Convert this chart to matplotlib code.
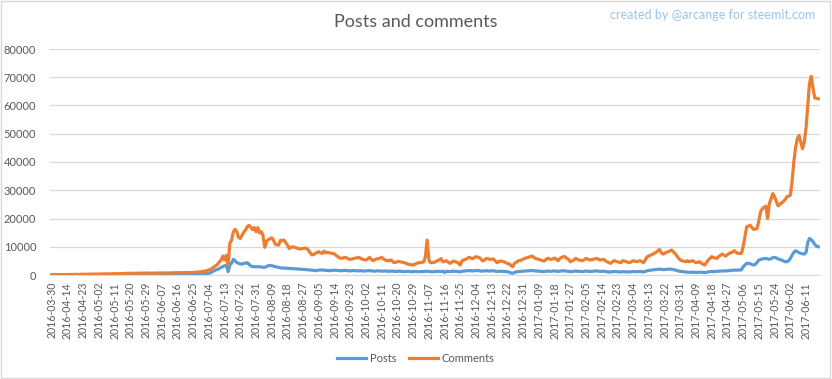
import matplotlib
matplotlib.use("Agg")
import matplotlib.pyplot as plt
import pandas as pd
from matplotlib.patches import Rectangle

# categories: one per day (the first date is followed by a gap)
dates = ["2016-03-30"] + [d.strftime("%Y-%m-%d") for d in pd.date_range("2016-04-06", periods=439, freq="D")]

posts = [
    20, 30, 25, 30, 35, 30, 40, 35, 40, 45,
    40, 45, 50, 45, 50, 55, 50, 55, 60, 55,
    60, 65, 60, 70, 65, 70, 75, 70, 80, 75,
    80, 85, 80, 90, 85, 90, 95, 90, 100, 95,
    100, 105, 100, 110, 105, 110, 115, 110, 120, 115,
    120, 125, 120, 130, 125, 130, 120, 125, 130, 135,
    130, 140, 135, 140, 145, 140, 150, 145, 150, 155,
    150, 160, 155, 165, 160, 170, 175, 170, 180, 185,
    190, 200, 210, 220, 240, 250, 300, 350, 450, 550,
    650, 800, 1180, 1500, 1800, 2000, 2300, 2700, 2940, 3300,
    3530, 1180, 3500, 4120, 5530, 5060, 4400, 4120, 3880, 3900,
    4120, 4200, 4350, 3800, 3180, 3000, 2940, 2950, 2900, 2940,
    2800, 2750, 2710, 3000, 3300, 3410, 3300, 3100, 2940, 2800,
    2700, 2550, 2470, 2450, 2400, 2380, 2350, 2300, 2250, 2180,
    2120, 2100, 2050, 2020, 2000, 1950, 1900, 1770, 1800, 1700,
    1650, 1530, 1600, 1770, 1750, 1770, 1700, 1650, 1600, 1530,
    1600, 1650, 1700, 1650, 1600, 1550, 1500, 1600, 1650, 1550,
    1500, 1450, 1550, 1600, 1500, 1450, 1500, 1550, 1450, 1400,
    1450, 1500, 1550, 1450, 1400, 1350, 1450, 1500, 1400, 1350,
    1400, 1450, 1350, 1300, 1350, 1400, 1300, 1250, 1300, 1350,
    1300, 1250, 1200, 1250, 1300, 1200, 1150, 1200, 1250, 1200,
    1150, 1200, 1250, 1200, 1300, 1350, 1250, 1200, 1150, 1200,
    1250, 1300, 1250, 1200, 1350, 900, 1300, 1250, 1200, 1300,
    1350, 1300, 1250, 1200, 1100, 1300, 1400, 1450, 1500, 1550,
    1500, 1450, 1500, 1550, 1600, 1500, 1400, 1350, 1450, 1500,
    1450, 1400, 1450, 1500, 1350, 1250, 1300, 1350, 1300, 1250,
    1200, 1150, 1000, 700, 600, 900, 1100, 1200, 1250, 1300,
    1350, 1400, 1450, 1500, 1550, 1600, 1500, 1450, 1400, 1350,
    1300, 1250, 1200, 1300, 1400, 1350, 1300, 1400, 1450, 1350,
    1250, 1350, 1450, 1500, 1450, 1350, 1300, 1150, 1250, 1300,
    1400, 1350, 1300, 1250, 1200, 1300, 1400, 1350, 1250, 1300,
    1350, 1400, 1450, 1350, 1250, 1300, 1350, 1250, 1150, 1100,
    1050, 1150, 1250, 1200, 1150, 1100, 1050, 1200, 1150, 1100,
    1100, 1050, 1150, 1250, 1200, 1150, 1200, 1250, 1150, 1100,
    1300, 1500, 1600, 1700, 1800, 1850, 1950, 2000, 2100, 2000,
    1900, 1950, 2000, 2050, 2100, 2000, 1900, 1800, 1600, 1400,
    1300, 1200, 1150, 1100, 1000, 950, 950, 1000, 950, 900,
    950, 1000, 950, 900, 850, 950, 1100, 1200, 1250, 1200,
    1250, 1300, 1350, 1400, 1450, 1400, 1450, 1500, 1550, 1600,
    1700, 1770, 1700, 1750, 1770, 1800, 2940, 3500, 4120, 4120,
    4000, 3700, 3530, 3800, 4500, 5300, 5500, 5700, 5800, 5880,
    5700, 5530, 5800, 6100, 6240, 6000, 5700, 5500, 5300, 5000,
    4710, 4710, 5000, 5880, 7000, 8000, 8590, 8300, 7900, 7650,
    7500, 7410, 8000, 11500, 12940, 12500, 11770, 10800, 10240, 10000,
]

comments = [
    100, 120, 80, 150, 100, 120, 130, 110, 150, 140,
    180, 200, 160, 220, 250, 200, 230, 260, 240, 280,
    250, 300, 280, 320, 300, 350, 330, 300, 360, 380,
    350, 400, 380, 420, 400, 450, 430, 480, 460, 500,
    520, 480, 550, 600, 560, 620, 580, 640, 600, 650,
    620, 680, 650, 700, 660, 720, 680, 600, 650, 700,
    680, 720, 700, 750, 680, 720, 760, 700, 740, 780,
    800, 750, 820, 780, 850, 800, 880, 820, 900, 850,
    900, 950, 880, 1000, 1050, 1100, 1200, 1300, 1400, 1600,
    1800, 2000, 2400, 2900, 3300, 3800, 4700, 5200, 6700, 5300,
    7000, 3500, 11200, 12400, 15300, 16200, 15300, 13300, 12900, 14100,
    15200, 15900, 17100, 17600, 16900, 16100, 16800, 15300, 16800, 14900,
    15300, 14000, 9800, 11800, 12600, 12800, 13200, 12300, 10900, 10700,
    10600, 12300, 12100, 12350, 11500, 10600, 9400, 9700, 10000, 9800,
    9650, 9400, 9200, 9300, 9400, 9500, 9400, 8800, 7900, 7100,
    7300, 7650, 8000, 8240, 7800, 7650, 8470, 7900, 8000, 7880,
    7700, 7600, 7400, 6900, 6470, 6000, 5880, 6100, 6240, 6000,
    5700, 5530, 5700, 5880, 6000, 6100, 6240, 5900, 5530, 5400,
    5300, 5700, 6240, 5600, 5060, 5400, 5700, 5770, 6000, 6240,
    5700, 5300, 5100, 5060, 5300, 5000, 4350, 4500, 4700, 4820,
    4600, 4500, 4350, 4100, 3880, 3700, 3600, 3530, 3800, 4120,
    4350, 4400, 4500, 4590, 6470, 12350, 5300, 4350, 4400, 4470,
    4800, 5060, 5400, 5770, 4700, 4800, 5060, 4600, 4120, 4500,
    4940, 4700, 4590, 4100, 3530, 5060, 5300, 5530, 5900, 6240,
    6000, 5770, 6100, 6470, 6300, 6120, 5500, 4940, 5400, 5880,
    5700, 5530, 5600, 5650, 5000, 4350, 4700, 4940, 4800, 4700,
    4350, 4100, 3880, 3400, 2940, 4120, 4500, 4940, 5100, 5300,
    5600, 5880, 6100, 6240, 6500, 6710, 6300, 5880, 5700, 5530,
    5300, 5100, 4940, 5400, 5880, 5700, 5530, 5700, 6000, 5500,
    5060, 5880, 6240, 6470, 6470, 5880, 5530, 4710, 5000, 5300,
    5880, 5600, 5300, 5200, 5060, 5400, 5880, 5600, 5300, 5400,
    5530, 5700, 5880, 5600, 5300, 5400, 5530, 5100, 4710, 4400,
    4120, 4600, 5060, 4900, 4710, 4500, 4350, 5060, 4900, 4710,
    4500, 4350, 4700, 5060, 4900, 4710, 4900, 5060, 4700, 4350,
    5400, 6470, 6700, 7060, 7300, 7650, 8000, 8470, 9060, 8000,
    7410, 7650, 8000, 8240, 8500, 8830, 8200, 7650, 6800, 5880,
    5300, 5060, 4900, 4710, 5060, 4710, 4900, 5060, 4700, 4350,
    4500, 4710, 4200, 3800, 3530, 4400, 5300, 5900, 6470, 6200,
    6000, 5880, 6500, 7000, 7410, 7000, 6710, 7200, 7650, 7880,
    8200, 8590, 8000, 7650, 7650, 7650, 10000, 13500, 17060, 17300,
    17650, 16800, 16130, 16300, 16470, 19500, 22360, 23530, 24000, 24360,
    20000, 25300, 27000, 28830, 27650, 26000, 24470, 25000, 25530, 26000,
    26710, 27650, 27900, 28240, 33000, 40000, 45000, 48240, 49400, 47000,
    44700, 47000, 52000, 60000, 68000, 70300, 66000, 62700, 62500, 62400,
]

y_ticks = [0, 10000, 20000, 30000, 40000, 50000, 60000, 70000, 80000]

BLUE = "#5B9BD5"
ORANGE = "#ED7D31"
GRAY = "#595959"
GRID = "#D9D9D9"
FONT = "Lato"

fig = plt.figure(figsize=(8.32, 3.79), dpi=100)
ax = fig.add_axes([50 / 832, 1 - 275 / 379, 770 / 832, 226 / 379])

x = list(range(len(dates)))
ax.plot(x, posts, color=BLUE, lw=2.3, label="Posts", solid_joinstyle="round")
ax.plot(x, comments, color=ORANGE, lw=2.3, label="Comments", solid_joinstyle="round")

ax.set_xlim(-1, len(dates))
ax.set_ylim(0, 80000)
ax.set_yticks(y_ticks)
ax.set_yticklabels([str(v) for v in y_ticks], fontsize=8, color=GRAY, family=FONT)
tick_pos = x[::9]
ax.set_xticks(tick_pos)
ax.set_xticklabels([dates[i] for i in tick_pos], rotation=90, fontsize=7.6, color=GRAY, family=FONT)
ax.tick_params(length=0, pad=5)
ax.tick_params(axis="y", pad=10)

ax.grid(axis="y", color=GRID, lw=0.9)
ax.set_axisbelow(True)
for side in ["top", "right", "left"]:
    ax.spines[side].set_visible(False)
ax.spines["bottom"].set_color(GRID)

fig.text(0.5, 1 - 22 / 379, "Posts and comments", ha="center", va="center",
         fontsize=13, color=GRAY, family=FONT)
fig.text(815 / 832, 1 - 15 / 379, "created by @arcange for steemit.com", ha="right", va="center",
         fontsize=9, color="#9DC3E6", family=FONT)

fig.legend(loc="center", bbox_to_anchor=(0.5, 1 - 358 / 379), ncol=2, frameon=False,
           handlelength=2.6, columnspacing=1.2, handletextpad=0.3,
           prop={"family": FONT, "size": 8}, labelcolor=GRAY)

fig.patches.append(Rectangle((0.001, 0.003), 0.997, 0.994, transform=fig.transFigure,
                             fill=False, edgecolor=GRID, lw=1))

fig.savefig("out.png", dpi=100)
